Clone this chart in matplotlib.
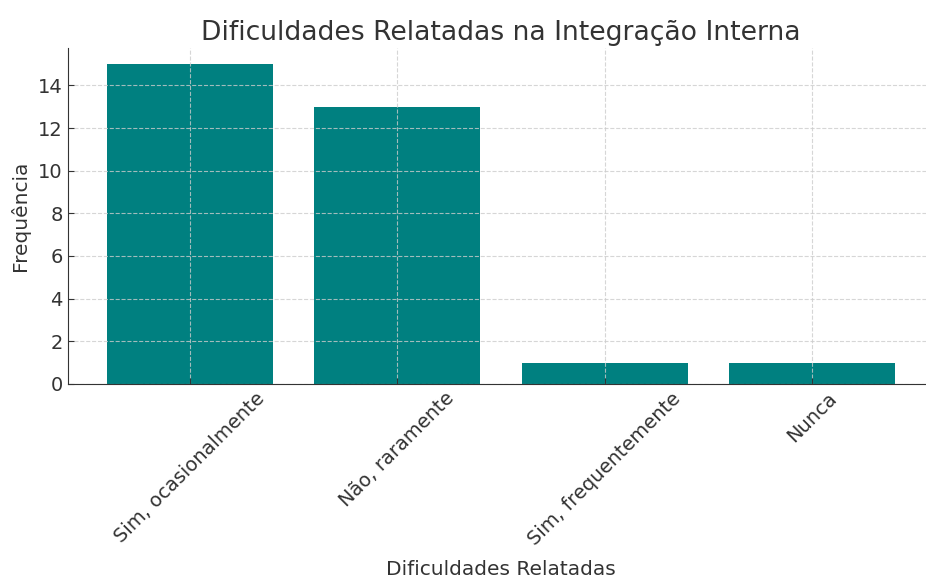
import matplotlib
matplotlib.use('Agg')
import matplotlib.pyplot as plt

plt.rcParams['font.family'] = ['DejaVu Sans']

categorias = ['Sim, ocasionalmente', 'Não, raramente', 'Sim, frequentemente', 'Nunca']
frequencias = [15, 13, 1, 1]

fig = plt.figure(figsize=(9.26, 5.79), dpi=100)
ax = fig.add_axes([0.073, 0.337, 0.936, 0.58])

ax.bar(categorias, frequencias, color='#008080')
ax.set_title('Dificuldades Relatadas na Integração Interna', fontsize=19.2, color='#333333')
ax.set_xlabel('Dificuldades Relatadas', fontsize=14.5, color='#333333', labelpad=8)
ax.set_ylabel('Frequência', fontsize=14.5, color='#333333', labelpad=6)
ax.tick_params(axis='both', labelsize=14, colors='#333333', direction='in', length=4)
plt.setp(ax.get_xticklabels(), rotation=45)
ax.grid(True, linestyle='--', color='#cccccc', alpha=0.8)
ax.spines['top'].set_visible(False)
ax.spines['right'].set_visible(False)
ax.spines['left'].set_color('#333333')
ax.spines['bottom'].set_color('#333333')

fig.savefig('out.png', dpi=100)
